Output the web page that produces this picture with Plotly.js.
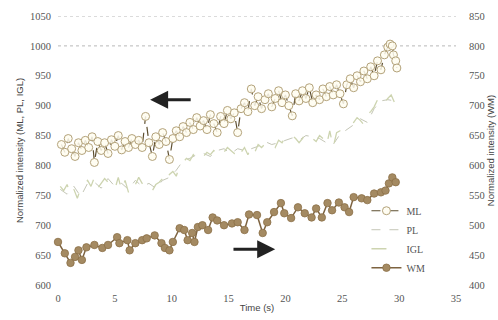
<!DOCTYPE html>
<html>
<head>
<meta charset="utf-8">
<script src="https://cdn.plot.ly/plotly-3.0.1.min.js"></script>
<style>html,body{margin:0;padding:0;background:#fff;}#chart{width:498px;height:320px;}</style>
</head>
<body>
<div id="chart"></div>
<script>
// ML (open circles, left axis)
const mlTime = [0.3,0.6,0.9,1.2,1.5,1.8,2.1,2.4,2.7,3.0,3.2,3.5,3.8,4.1,4.4,4.7,5.0,5.3,5.6,5.9,6.2,6.5,6.8,7.1,7.4,7.7,8.0,8.3,8.6,8.9,9.2,9.5,9.8,10.1,10.4,10.7,11.0,11.3,11.6,11.9,12.2,12.5,12.8,13.1,13.4,13.7,14.0,14.3,14.6,14.9,15.2,15.5,15.8,16.1,16.4,16.7,17.0,17.3,17.6,17.9,18.2,18.5,18.8,19.1,19.4,19.7,20.0,20.3,20.6,20.9,21.2,21.5,21.8,22.1,22.4,22.7,23.0,23.3,23.6,23.9,24.2,24.5,24.8,25.1,25.4,25.7,26.0,26.3,26.6,26.9,27.2,27.5,27.8,28.1,28.4,28.7,29.0,29.2,29.4,29.5,29.7,29.8];
const mlValues = [835,822,845,828,815,838,825,842,830,848,805,840,825,838,820,843,832,850,826,840,830,845,835,842,830,882,838,815,848,835,855,840,810,845,858,848,865,855,872,860,880,866,875,860,885,870,855,882,870,892,878,888,855,895,905,890,928,900,915,895,910,920,898,912,925,905,918,900,883,920,908,925,912,930,905,918,910,928,915,932,918,935,920,903,935,945,930,950,940,958,945,965,950,975,960,985,998,1003,1000,985,975,963];

// PL (left axis)
const plTime = [0.2,0.8,1.4,2.0,2.6,3.2,3.8,4.4,5.0,5.6,6.2,6.8,7.4,8.0,8.6,9.2,9.8,10.4,11.0,11.6,12.2,12.8,13.4,14.0,14.6,15.2,15.8,16.4,17.0,17.6,18.2,18.8,19.4,20.0,20.6,21.2,21.8,22.4,23.0,23.6,24.2,24.8,25.4,26.0,26.6,27.2,27.8,28.4,29.0,29.6];
const plValues = [760,752,765,748,770,772,762,778,765,770,760,775,765,770,762,775,780,792,808,812,818,820,815,825,828,820,828,825,828,832,840,835,838,842,846,842,850,848,845,838,835,852,860,868,878,872,895,908,910,908];

// IGL (left axis)
const iglTime = [0.2,0.5,0.8,1.1,1.4,1.7,2.0,2.3,2.6,2.9,3.2,3.5,3.8,4.1,4.4,4.7,5.0,5.3,5.6,5.9,6.2,6.5,6.8,7.1,7.4,7.7,8.0,8.3,8.6,8.9,9.2,9.5,9.8,10.1,10.4,10.7,11.0,11.3,11.6,11.9,12.2,12.5,12.8,13.1,13.4,13.7,14.0,14.3,14.6,14.9,15.2,15.5,15.8,16.1,16.4,16.7,17.0,17.3,17.6,17.9,18.2,18.5,18.8,19.1,19.4,19.7,20.0,20.3,20.6,20.9,21.2,21.5,21.8,22.1,22.4,22.7,23.0,23.3,23.6,23.9,24.2,24.5,24.8,25.1,25.4,25.7,26.0,26.3,26.6,26.9,27.2,27.5,27.8,28.1,28.4,28.7,29.0,29.3,29.6];
const iglValues = [765,758,768,750,760,745,762,768,775,765,780,762,770,778,772,765,760,780,758,775,755,772,768,780,770,762,765,758,768,772,778,770,785,790,782,800,805,812,808,818,812,820,815,822,818,825,820,828,822,830,825,820,832,822,830,818,832,822,835,830,836,840,838,830,842,838,848,845,850,845,838,845,855,850,845,840,850,845,833,858,830,855,858,862,865,870,872,880,875,868,885,890,898,910,915,905,912,918,905];

// WM (filled circles, right axis)
const wmTime = [0.0,0.6,1.1,1.5,1.8,2.1,2.5,3.2,3.9,4.4,5.2,5.4,6.1,6.3,6.8,7.4,7.8,8.5,9.1,9.4,9.8,10.1,10.7,11.1,11.4,11.8,12.0,12.3,12.7,13.2,13.6,14.0,14.6,15.3,15.8,16.4,16.8,17.5,18.0,18.4,19.0,19.6,19.9,20.5,21.1,21.7,22.3,22.7,23.2,23.7,24.1,24.7,25.2,25.6,26.0,26.7,27.2,27.8,28.4,28.8,29.1,29.4,29.7];
const wmValues = [472,453,437,447,458,442,463,467,462,467,480,470,475,458,470,475,478,483,470,462,458,472,495,492,475,487,472,497,500,492,513,508,500,503,505,492,518,517,487,505,522,537,520,512,530,520,513,528,513,537,525,538,530,522,547,545,542,553,555,558,570,580,572];

const leftTicks = [600,650,700,750,800,850,900,950,1000,1050];
const rightTicks = [400,450,500,550,600,650,700,750,800,850];
const xTicks = [0,5,10,15,20,25,30,35];
const gridLevels = [1000,1050];

const serif = "'Liberation Serif', 'DejaVu Serif', serif";
const sans = "'Liberation Sans', Arial, sans-serif";
const tickFont = {family:serif, size:10.5, color:'#555'};
const titleFont = {family:sans, size:9.5, color:'#444'};

const traces = [
  {x:mlTime, y:mlValues, name:'ML', type:'scatter', mode:'lines+markers', cliponaxis:false,
   line:{color:'#5e4f30', width:1.2, dash:'dash'},
   marker:{symbol:'circle', size:8, color:'rgba(255,253,240,0.85)', line:{color:'#b3a27a', width:1}}},
  {x:plTime, y:plValues, name:'PL', type:'scatter', mode:'lines',
   line:{color:'#c4c6b6', width:1, dash:'dash'}},
  {x:iglTime, y:iglValues, name:'IGL', type:'scatter', mode:'lines',
   line:{color:'#cdd4b0', width:1.3, dash:'longdash'}},
  {x:wmTime, y:wmValues, name:'WM', type:'scatter', mode:'lines+markers', yaxis:'y2', cliponaxis:false,
   line:{color:'#7d6340', width:1.5},
   marker:{symbol:'circle', size:7.5, color:'#a48a62', line:{color:'#8c7048', width:0.8}}}
];

const shapes = gridLevels.map(v => ({
  type:'line', xref:'paper', x0:0, x1:1, yref:'y', y0:v, y1:v,
  line:{color:'#b8b8b8', width:1, dash:'dot'}, layer:'below'
}));

const layout = {
  width:498, height:320,
  font:{family:serif, color:'#555'},
  margin:{l:58, r:42, t:16, b:35},
  paper_bgcolor:'#ffffff', plot_bgcolor:'#ffffff',
  showlegend:true,
  legend:{x:0.775, y:0.33, xanchor:'left', yanchor:'top', bgcolor:'rgba(0,0,0,0)',
          font:{family:serif, size:10, color:'#555'},
          tracegroupgap:0, itemwidth:30},
  xaxis:{range:[0,35], tickvals:xTicks, ticktext:xTicks.map(String), showgrid:false, zeroline:false,
         showline:false, ticks:'', tickfont:tickFont, ticklabelstandoff:5,
         title:{text:'Time (s)', font:titleFont, standoff:1}},
  yaxis:{range:[600,1050], tickvals:leftTicks, ticktext:leftTicks.map(String), showgrid:false, zeroline:false,
         showline:false, ticks:'', tickfont:tickFont, ticklabelstandoff:6,
         title:{text:'Normalized intensity (ML, PL, IGL)', font:titleFont, standoff:4}},
  yaxis2:{range:[400,850], tickvals:rightTicks, ticktext:rightTicks.map(String), overlaying:'y', side:'right',
          showgrid:false, zeroline:false, showline:false, ticks:'', tickfont:tickFont, ticklabelstandoff:12,
          title:{text:'Normalized intensity (WM)', font:titleFont, standoff:2}},
  shapes:shapes,
  annotations:[
    {xref:'x', yref:'y', axref:'x', ayref:'y', x:8.1, y:910, ax:11.8, ay:910, text:'',
     showarrow:true, arrowhead:2, arrowsize:1.2, arrowwidth:3, arrowcolor:'#222'},
    {xref:'x', yref:'y', axref:'x', ayref:'y', x:19.1, y:660, ax:15.3, ay:660, text:'',
     showarrow:true, arrowhead:2, arrowsize:1.2, arrowwidth:3, arrowcolor:'#222'}
  ]
};

Plotly.newPlot('chart', traces, layout, {displayModeBar:false, staticPlot:true});
</script>
</body>
</html>
